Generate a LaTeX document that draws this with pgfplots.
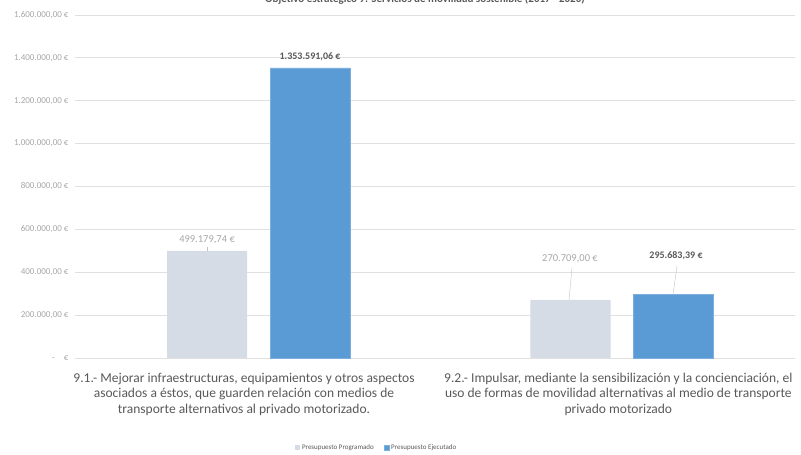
\documentclass[border=0pt]{standalone}
\usepackage{pgfplots}
\pgfplotsset{compat=1.18}
\usepackage{fontspec}
\setmainfont{Carlito}
\definecolor{prog}{HTML}{D6DCE5}
\definecolor{ejec}{HTML}{5B9BD5}
\definecolor{txt}{HTML}{595959}
\definecolor{lbl}{HTML}{A6A6A6}
\definecolor{gridc}{HTML}{E0E0E0}
\begin{document}
\begin{tikzpicture}[x=1pt,y=1pt]
\useasboundingbox (0,0) rectangle (801,455);
\node[anchor=base, font=\bfseries\fontsize{11}{13}\selectfont, text=txt] at (425,452) {Objetivo estratégico 9: Servicios de movilidad sostenible (2017 - 2020)};
\begin{axis}[at={(75pt,97pt)}, anchor=south west, scale only axis,
  width=720pt, height=343pt,
  xmin=-0.505, xmax=1.476, ymin=0, ymax=1600000,
  ybar, bar width=80pt,
  axis line style={draw=none}, tick style={draw=none},
  ymajorgrids, grid style={gridc, line width=0.8pt},
  scaled y ticks=false,
  ytick={0,200000,400000,600000,800000,1000000,1200000,1400000,1600000},
  yticklabels={{-\quad €},{200.000,00 €},{400.000,00 €},{600.000,00 €},{800.000,00 €},{1.000.000,00 €},{1.200.000,00 €},{1.400.000,00 €},{1.600.000,00 €}},
  yticklabel style={font=\fontsize{9}{10}\selectfont, text=lbl, xshift=-3pt},
  xtick={-0.04,0.99},
  xticklabels={{9.1.- Mejorar infraestructuras, equipamientos y otros aspectos\\asociados a éstos, que guarden relación con medios de\\transporte alternativos al privado motorizado.},{9.2.- Impulsar, mediante la sensibilización y la concienciación, el\\uso de formas de movilidad alternativas al medio de transporte\\privado motorizado}},
  xticklabel style={align=center, font=\fontsize{13.5}{15.5}\selectfont, text=txt, yshift=-7pt},
  clip=false,
  legend columns=2,
  legend style={at={(0.419,-0.262)}, anchor=center, draw=none, fill=none,
    font=\fontsize{7}{8}\selectfont, text=txt, /tikz/every even column/.append style={column sep=8pt}},
  legend image code/.code={\fill[#1] (0pt,-2pt) rectangle (5pt,3pt);},
]
\addplot[fill=prog, draw=none, bar shift=-51.5pt] coordinates {(0,499179.74) (1,270709.00)};
\addlegendentry{Presupuesto Programado}
\addplot[fill=ejec, draw=ejec!80!white, bar shift=51.5pt] coordinates {(0,1353591.06) (1,295683.39)};
\addlegendentry{Presupuesto Ejecutado}
% data labels
\node[text=lbl, font=\fontsize{10.5}{12}\selectfont] at ([xshift=-51.5pt]axis cs:0,550437) {499.179,74 €};
\draw[lbl!70] ([xshift=-51.5pt]axis cs:0,517784) -- ([xshift=-51.5pt]axis cs:0,499179.74);
\node[text=txt, font=\bfseries\fontsize{10}{12}\selectfont] at ([xshift=51.5pt]axis cs:0,1404082) {1.353.591,06 €};
\node[text=lbl, font=\fontsize{10.5}{12}\selectfont] at ([xshift=-52pt]axis cs:1,461808) {270.709,00 €};
\draw[lbl!70] ([xshift=-50pt]axis cs:1,419825) -- ([xshift=-53pt]axis cs:1,270709.00);
\node[text=txt, font=\bfseries\fontsize{10}{12}\selectfont] at ([xshift=54pt]axis cs:1,475802) {295.683,39 €};
\draw[lbl!70] ([xshift=55pt]axis cs:1,429155) -- ([xshift=51pt]axis cs:1,295683.39);
\end{axis}
\end{tikzpicture}
\end{document}
